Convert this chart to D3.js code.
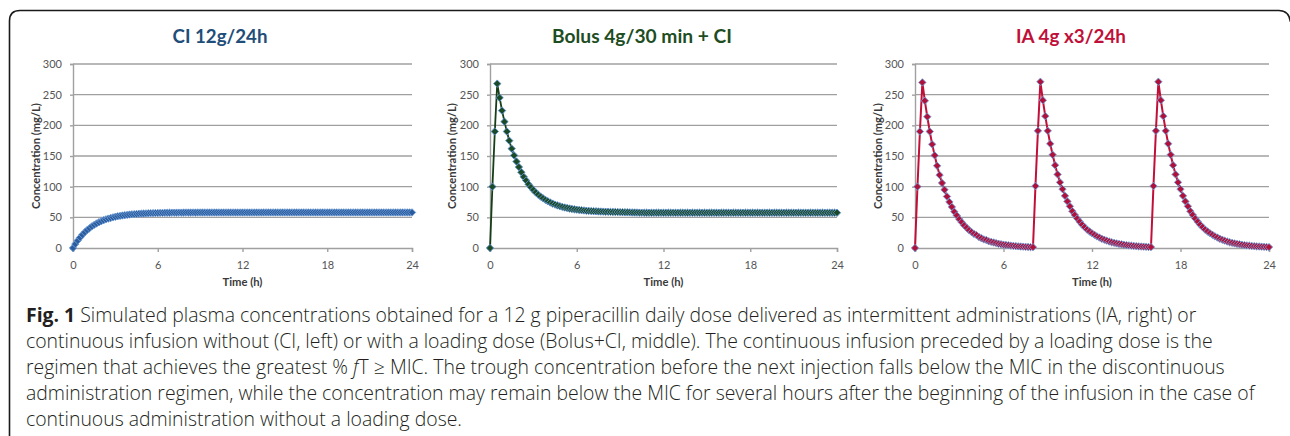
<!DOCTYPE html>
<html>
<head>
<meta charset="utf-8">
<script src="https://cdn.jsdelivr.net/npm/d3@7/dist/d3.min.js"></script>
<style>
  html, body { margin: 0; padding: 0; background: #fff; }
  svg { display: block; }
</style>
</head>
<body>
<svg id="chart" width="1290" height="436"></svg>
<script>
// ---------------- DATA ----------------
const panelTitles = ["CI 12g/24h", "Bolus 4g/30 min + CI", "IA 4g x3/24h"];
const xTickValues = [0, 6, 12, 18, 24];
const yTickValues = [0, 50, 100, 150, 200, 250, 300];
const xAxisTitle = "Time (h)";
const yAxisTitle = "Concentration (mg/L)";
const stepMinutes = 10; // sampling step of the simulated series (10 min, 0..24 h)

// Continuous infusion 12 g / 24 h (mg/L), one value every 10 min
const ciValues = [
  0, 6.4, 12.1, 17.1, 21.6, 25.6, 29.2, 32.3, 35.2, 37.7, 39.9, 41.9, 43.7, 45.3, 46.7, 47.9,
  49.0, 50.0, 50.9, 51.7, 52.4, 53.0, 53.5, 54.0, 54.5, 54.9, 55.2, 55.5, 55.8, 56.0, 56.2, 56.4,
  56.6, 56.8, 56.9, 57.0, 57.1, 57.2, 57.3, 57.4, 57.4, 57.5, 57.6, 57.6, 57.7, 57.7, 57.7, 57.8,
  57.8, 57.8, 57.8, 57.8, 57.8, 57.9, 57.9, 57.9, 57.9, 57.9, 57.9, 57.9, 57.9, 57.9, 57.9, 57.9,
  57.9, 57.9, 57.9, 57.9, 57.9, 57.9, 57.9, 57.9, 57.9, 57.9, 57.9, 57.9, 57.9, 57.9, 57.9, 57.9,
  57.9, 58.0, 58.0, 58.0, 58.0, 58.0, 58.0, 58.0, 58.0, 58.0, 58.0, 58.0, 58.0, 58.0, 58.0, 58.0,
  58.0, 58.0, 58.0, 58.0, 58.0, 58.0, 58.0, 58.0, 58.0, 58.0, 58.0, 58.0, 58.0, 58.0, 58.0, 58.0,
  58.0, 58.0, 58.0, 58.0, 58.0, 58.0, 58.0, 58.0, 58.0, 58.0, 58.0, 58.0, 58.0, 58.0, 58.0, 58.0,
  58.0, 58.0, 58.0, 58.0, 58.0, 58.0, 58.0, 58.0, 58.0, 58.0, 58.0, 58.0, 58.0, 58.0, 58.0, 58.0,
  58.0
];

// Loading dose 4 g / 30 min followed by continuous infusion (mg/L)
const bolusValues = [
  0, 100, 190, 268, 245, 224, 206, 190, 175, 162, 151, 141, 132, 123.5, 116, 110,
  104, 99, 94.6, 90.6, 87, 83.8, 81, 78.4, 76.2, 74.2, 72.4, 70.8, 69.4, 68.1, 67, 66,
  65.2, 64.4, 63.7, 63.1, 62.5, 62, 61.6, 61.2, 60.8, 60.5, 60.2, 60, 59.8, 59.6, 59.4, 59.3,
  59.1, 59.0, 58.9, 58.8, 58.7, 58.6, 58.5, 58.4, 58.3, 58.2, 58.1, 58.0, 57.9, 57.8, 57.7, 57.6,
  57.5, 57.5, 57.5, 57.5, 57.5, 57.5, 57.5, 57.5, 57.5, 57.5, 57.5, 57.5, 57.5, 57.5, 57.5, 57.5,
  57.5, 57.5, 57.5, 57.5, 57.5, 57.5, 57.5, 57.5, 57.5, 57.5, 57.5, 57.5, 57.5, 57.5, 57.5, 57.5,
  57.5, 57.5, 57.5, 57.5, 57.5, 57.5, 57.5, 57.5, 57.5, 57.5, 57.5, 57.5, 57.5, 57.5, 57.5, 57.5,
  57.5, 57.5, 57.5, 57.5, 57.5, 57.5, 57.5, 57.5, 57.5, 57.5, 57.5, 57.5, 57.5, 57.5, 57.5, 57.5,
  57.5, 57.5, 57.5, 57.5, 57.5, 57.5, 57.5, 57.5, 57.5, 57.5, 57.5, 57.5, 57.5, 57.5, 57.5, 57.5,
  57.5
];

// Intermittent administration 4 g x3 / 24 h (mg/L)
const iaValues = [
  0, 100, 190, 270, 240, 214, 190, 169, 151, 134, 119, 106, 95, 84, 75, 67,
  59, 53, 47, 42, 37, 33, 29, 26, 23, 21, 18, 16, 14, 13, 11, 10,
  9, 8, 7, 6.2, 5.5, 4.9, 4.4, 3.9, 3.5, 3.1, 2.7, 2.4, 2.2, 1.9, 1.7, 1.5,
  1.4,
  101, 191, 271, 241, 215, 191, 170, 152, 135, 120, 107, 96, 85, 76, 68, 60,
  54, 48, 43, 38, 34, 30, 27, 24, 21.5, 19, 17, 15, 13.5, 12, 10.5, 9.4,
  8.4, 7.5, 6.7, 6.0, 5.3, 4.7, 4.2, 3.8, 3.4, 3.0, 2.7, 2.4, 2.2, 1.9, 1.7, 1.5,
  101, 191, 271, 241, 215, 191, 170, 152, 135, 120, 107, 96, 85, 76, 68, 60,
  54, 48, 43, 38, 34, 30, 27, 24, 21.5, 19, 17, 15, 13.5, 12, 10.5, 9.4,
  8.4, 7.5, 6.7, 6.0, 5.3, 4.7, 4.2, 3.8, 3.4, 3.0, 2.7, 2.4, 2.2, 1.9, 1.7, 1.5
];

const seriesValues = [ciValues, bolusValues, iaValues];

const captionLines = [
  [{t: "Fig. 1", w: "bold"}, {t: " Simulated plasma concentrations obtained for a 12 g piperacillin daily dose delivered as intermittent administrations (IA, right) or"}],
  [{t: "continuous infusion without (CI, left) or with a loading dose (Bolus+CI, middle). The continuous infusion preceded by a loading dose is the"}],
  [{t: "regimen that achieves the greatest % "}, {t: "f", s: "italic"}, {t: "T ≥ MIC. The trough concentration before the next injection falls below the MIC in the discontinuous"}],
  [{t: "administration regimen, while the concentration may remain below the MIC for several hours after the beginning of the infusion in the case of"}],
  [{t: "continuous administration without a loading dose."}]
];

// ---------------- LAYOUT / STYLE ----------------
const layout = [
  {x0: 73,  x1: 412,  titleX: 220,  titleW: 95,  yTitleX: 40},
  {x0: 490, x1: 837,  titleX: 642,  titleW: 180, yTitleX: 456},
  {x0: 915, x1: 1269, titleX: 1071, titleW: 110, yTitleX: 882}
];
const styles = [
  {title: "#1f4e79", line: "#1f4e8c", fill: "#2b5d9e", stroke: "#6d9bd6", lw: 1.4},
  {title: "#1e4d1f", line: "#173f17", fill: "#1c4a24", stroke: "#5f93d2", lw: 1.8},
  {title: "#c0103a", line: "#c0103a", fill: "#b0103a", stroke: "#6f9ed8", lw: 2.0}
];
const yTop = 64, yBot = 248;
const chartFont = "Lato, 'Open Sans', sans-serif";

const svg = d3.select("#chart");
svg.append("rect").attr("width", 1290).attr("height", 436).attr("fill", "#fff");

// frame
svg.append("path")
  .attr("d", "M9.5,440 V21 Q9.5,10.5 20,10.5 H1279 Q1289,10.5 1290.5,22")
  .attr("fill", "none").attr("stroke", "#1a1a1a").attr("stroke-width", 1.6);

function fitText(sel, targetW) {
  const w = sel.node().getComputedTextLength();
  const fs = parseFloat(sel.attr("font-size"));
  sel.attr("font-size", fs * targetW / w);
}

const diamond = r => `M0,${-r}L${r},0L0,${r}L${-r},0Z`;

layout.forEach((L, k) => {
  const st = styles[k];
  const vals = seriesValues[k];
  const data = vals.map((v, i) => ({t: i * stepMinutes / 60, v}));

  const x = d3.scaleLinear().domain([0, 24]).range([L.x0, L.x1]);
  const y = d3.scaleLinear().domain([0, 300]).range([yBot, yTop]);
  const g = svg.append("g");

  // gridlines
  g.append("g").selectAll("line").data(yTickValues.filter(d => d > 0)).join("line")
    .attr("x1", L.x0).attr("x2", L.x1)
    .attr("y1", d => y(d)).attr("y2", d => y(d))
    .attr("stroke", "#a0a0a0").attr("stroke-width", 1.4);

  // y axis
  const ya = g.append("g").attr("transform", `translate(${L.x0},0)`)
    .call(d3.axisLeft(y).tickValues(yTickValues).tickSize(3).tickPadding(8));
  ya.select(".domain").attr("stroke", "#a0a0a0").attr("stroke-width", 1.4);
  ya.selectAll(".tick line").attr("stroke", "#a0a0a0").attr("stroke-width", 1.4);
  ya.selectAll("text").attr("font-family", chartFont).attr("font-size", 11).attr("fill", "#555");

  // x axis
  const xa = g.append("g").attr("transform", `translate(0,${yBot})`)
    .call(d3.axisBottom(x).tickValues(xTickValues).tickSize(4).tickPadding(9));
  xa.select(".domain").attr("stroke", "#a0a0a0").attr("stroke-width", 1.4);
  xa.selectAll(".tick line").attr("stroke", "#a0a0a0").attr("stroke-width", 1.4);
  xa.selectAll("text").attr("font-family", chartFont).attr("font-size", 11).attr("fill", "#555");

  // line
  g.append("path").datum(data)
    .attr("d", d3.line().x(d => x(d.t)).y(d => y(d.v)))
    .attr("fill", "none").attr("stroke", st.line).attr("stroke-width", st.lw)
    .attr("stroke-linejoin", "round");

  // markers
  g.append("g").selectAll("path").data(data).join("path")
    .attr("transform", d => `translate(${x(d.t)},${y(d.v)})`)
    .attr("d", diamond(3.7))
    .attr("fill", st.fill).attr("stroke", st.stroke).attr("stroke-width", 0.9);

  // title
  const tt = svg.append("text").attr("x", L.titleX).attr("y", 43)
    .attr("text-anchor", "middle").attr("font-family", chartFont)
    .attr("font-weight", "bold").attr("font-size", 18).attr("fill", st.title)
    .text(panelTitles[k]);
  fitText(tt, L.titleW);

  // axis titles
  const yt = svg.append("text")
    .attr("transform", `translate(${L.yTitleX},${(yTop + yBot) / 2}) rotate(-90)`)
    .attr("text-anchor", "middle").attr("font-family", chartFont)
    .attr("font-weight", "bold").attr("font-size", 9.5).attr("fill", "#3a3a3a")
    .text(yAxisTitle);
  fitText(yt, 106);
  const xt = svg.append("text")
    .attr("x", (L.x0 + L.x1) / 2).attr("y", 286)
    .attr("text-anchor", "middle").attr("font-family", chartFont)
    .attr("font-weight", "bold").attr("font-size", 9).attr("fill", "#3a3a3a")
    .text(xAxisTitle);
  fitText(xt, 40);
});

// caption
const capFont = "'Open Sans', 'Noto Sans', sans-serif";
const capG = svg.append("g");
const capTexts = captionLines.map((parts, li) => {
  const t = capG.append("text").attr("x", 26).attr("y", 322 + li * 26)
    .attr("font-family", capFont).attr("font-size", 18).attr("fill", "#231f20")
    .attr("font-weight", 300);
  parts.forEach(p => {
    const s = t.append("tspan").text(p.t);
    if (p.w) s.attr("font-weight", p.w);
    if (p.s) s.attr("font-style", p.s);
  });
  return t;
});
// fit caption size so that line 4 spans the same width as in the reference
const refW = capTexts[3].node().getComputedTextLength();
const capSize = 18 * 1229 / refW;
capTexts.forEach(t => t.attr("font-size", capSize));
</script>
</body>
</html>
